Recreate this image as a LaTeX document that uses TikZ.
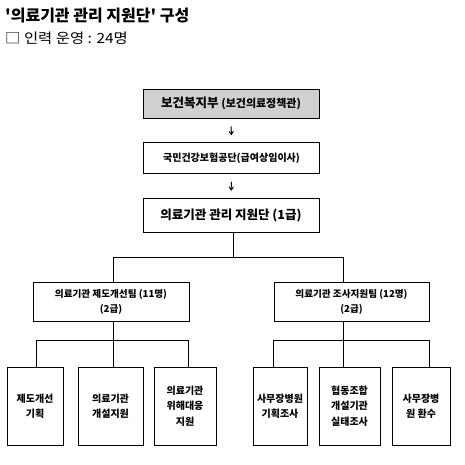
\documentclass[tikz,border=0pt]{standalone}
\usepackage{fontspec}
\usepackage{tikz}
\usetikzlibrary{arrows.meta,positioning}
\setmainfont{Noto Sans CJK KR}
\definecolor{orgink}{HTML}{000000}
\definecolor{orghead}{HTML}{D0D0D0}
\tikzset{
  box/.style     = {rectangle, draw=orgink, line width=0.9pt, align=center,
                    inner sep=1pt, font=\bfseries\fontsize{10}{15.5}\selectfont},
  headbox/.style = {box, fill=orghead, minimum width=176pt, minimum height=29pt,
                    font=\bfseries\fontsize{12.5}{14}\selectfont},
  midbox/.style  = {box, minimum width=176pt, minimum height=31pt},
  teambox/.style = {box, minimum width=156pt, minimum height=39pt,
                    font=\bfseries\fontsize{9.6}{15}\selectfont},
  taskbox/.style = {box, minimum height=78pt},
  link/.style    = {line width=0.9pt, draw=orgink},
  down/.style    = {-{To[length=4pt,width=5pt]}, line width=1pt, draw=orgink,
                    shorten <=8pt, shorten >=7pt},
  ttl/.style     = {anchor=west, inner sep=0pt},
}

\begin{document}
\begin{tikzpicture}[x=1pt, y=-1pt]
\useasboundingbox (0,0) rectangle (465,464);

% --- heading
\node[ttl, font=\bfseries\fontsize{16}{18}\selectfont] (title) at (5,16)
  {\textquotesingle 의료기관 관리 지원단\textquotesingle\ 구성};
\node[ttl, font=\fontsize{14}{16}\selectfont, xscale=1.1] (staff) at (5,38) {□ 인력 운영 : 24명};

% --- chain
\node[headbox] (mohw) at (231,103.5) {보건복지부 {\fontsize{11}{12}\selectfont(보건의료정책관)}};
\node[midbox] (nhis) at (231.5,158) {국민건강보험공단(급여상임이사)};
\node[midbox, minimum height=34pt, font=\bfseries\fontsize{12.5}{14}\selectfont] (corps) at (231,215)
  {의료기관 관리 지원단 (1급)};

% --- teams
\node[teambox] (teamL) at (111,301.5) {의료기관 제도개선팀 (11명)\\(2급)};
\node[teambox, minimum width=155pt] (teamR) at (351.5,301.5) {의료기관 조사지원팀 (12명)\\(2급)};

% --- tasks
\node[taskbox, minimum width=56pt] (b1) at (35,406) {제도개선\\기획};
\node[taskbox, minimum width=65pt] (b2) at (110.5,406) {의료기관\\개설지원};
\node[taskbox, minimum width=62pt] (b3) at (185,406) {의료기관\\위해대응\\지원};
\node[taskbox, minimum width=54pt] (b4) at (280,406) {사무장병원\\기획조사};
\node[taskbox, minimum width=61pt] (b5) at (349.5,406) {협동조합\\개설기관\\실태조사};
\node[taskbox, minimum width=58pt] (b6) at (421,406) {사무장병\\원 환수};

% --- arrows
\draw[down] (mohw) -- (nhis);
\draw[down] (nhis) -- (corps);

% --- tree
\draw[link] ([xshift=2pt]corps.south) -- ++(0,25) coordinate (j0);
\draw[link] ([xshift=2pt]teamL.north) |- (j0) -| ([xshift=-8.5pt]teamR.north);
\draw[link] ([xshift=2pt]teamL.south) -- ([xshift=2pt]teamL.south |- b2.north);
\draw[link] ([xshift=1pt]b1.north) -- ++(0,-26) -| ([xshift=3pt]b3.north);
\draw[link] ([xshift=-8.5pt]teamR.south) -- ([xshift=-8.5pt]teamR.south |- b5.north);
\draw[link] ([xshift=-7pt]b4.north) -- ++(0,-26) -| ([xshift=8pt]b6.north);

\end{tikzpicture}
\end{document}
